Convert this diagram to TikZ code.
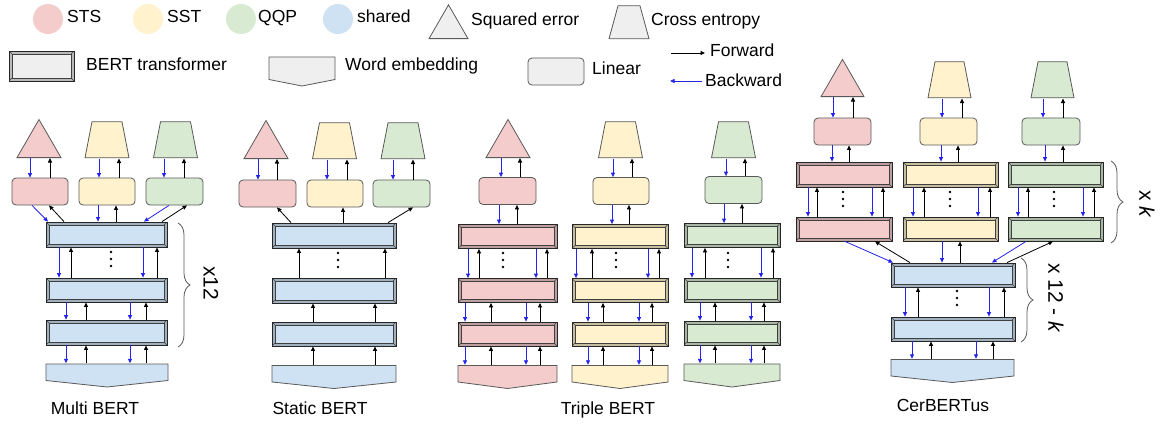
\documentclass[tikz,border=0pt]{standalone}
\usepackage{fontspec}
\setmainfont{Liberation Sans}
\usepackage{xcolor}
\usetikzlibrary{arrows.meta,shapes.geometric,decorations.pathreplacing}

\definecolor{stsC}{HTML}{F4CCCC}
\definecolor{sstC}{HTML}{FFF2CC}
\definecolor{qqpC}{HTML}{D9EAD3}
\definecolor{shrC}{HTML}{CFE2F3}
\definecolor{keyC}{HTML}{EFEFEF}
\definecolor{edgeC}{HTML}{595959}
\definecolor{bwdC}{HTML}{2424EE}

\begin{document}
\begin{tikzpicture}[x=1pt, y=-1pt,
  font=\fontsize{17.5}{20}\selectfont,
  lbl/.style={inner sep=0, text height=12.5pt, text depth=0pt},
  big/.style={inner sep=0, font=\fontsize{21}{24}\selectfont, rotate=-90},
  blob/.style={circle, minimum size=30pt, inner sep=0, fill=#1},
  sqe/.style={regular polygon, regular polygon sides=3, draw=edgeC, line width=0.8pt,
              fill=#1, minimum size=50.8pt, inner sep=0, anchor=south},
  xent/.style 2 args={fill=white, inner sep=0, minimum width=45pt, minimum height=37pt,
               anchor=south,
               path picture={
                 \draw[edgeC, line width=0.8pt, fill=#1]
                   ([shift={(0.5pt,0.5pt)}]path picture bounding box.south west) --
                   ([shift={(-0.5pt,0.5pt)}]path picture bounding box.south east) --
                   ([shift={(-#2,-0.5pt)}]path picture bounding box.north east) --
                   ([shift={(#2,-0.5pt)}]path picture bounding box.north west) -- cycle;}},
  lin/.style={draw=edgeC, line width=0.8pt, rounded corners=4pt, fill=#1,
              minimum width=56pt, minimum height=27pt, inner sep=0},
  bert/.style={draw=black!85, line width=0.8pt, fill=#1!78!black, inner sep=0,
               minimum height=24pt,
               path picture={
                 \draw[black!75, line width=0.5pt, fill=#1]
                   ([shift={(3pt,3pt)}]path picture bounding box.south west) rectangle
                   ([shift={(-3pt,-3pt)}]path picture bounding box.north east);
                 \draw[black!75, line width=0.5pt]
                   (path picture bounding box.south west) -- ++(3pt,3pt)
                   (path picture bounding box.north west) -- ++(3pt,-3pt)
                   (path picture bounding box.north east) -- ++(-3pt,-3pt)
                   (path picture bounding box.south east) -- ++(-3pt,3pt);}},
  emb/.style={fill=white, inner sep=0, minimum height=24pt,
              path picture={
                \draw[edgeC, line width=0.8pt, fill=#1]
                  ([shift={(0.5pt,-0.5pt)}]path picture bounding box.north west) --
                  ([shift={(-0.5pt,-0.5pt)}]path picture bounding box.north east) --
                  ([shift={(-0.5pt,7pt)}]path picture bounding box.south east) --
                  ([yshift=0.5pt]path picture bounding box.south) --
                  ([shift={(0.5pt,7pt)}]path picture bounding box.south west) -- cycle;}},
  fwd/.style={->, black, line width=0.8pt},
  bwd/.style={->, bwdC, line width=0.8pt},
  brc/.style={edgeC, line width=0.8pt, decorate, decoration={brace, amplitude=12pt}},
  >={Triangle[length=4.5pt, width=4pt]}]
\useasboundingbox (0,0) rectangle (1163,424);

% legend
\node[blob=stsC] (kSts) at (48,19) {};
\node[lbl, anchor=west] (tSts) at (67,16.5) {STS};
\node[blob=sstC] (kSst) at (148,19) {};
\node[lbl, anchor=west] (tSst) at (167,16.5) {SST};
\node[blob=qqpC] (kQqp) at (241,19) {};
\node[lbl, anchor=west] (tQqp) at (258,16.5) {QQP};
\node[blob=shrC] (kShr) at (338,19) {};
\node[lbl, anchor=west] (tShr) at (357,16.5) {shared};
\node[sqe=keyC, minimum size=45pt] (kSqe) at (448.5,39) {};
\node[lbl, anchor=west] (tSqe) at (471,19) {Squared error};
\node[xent={keyC}{9.5pt}, minimum width=41pt, minimum height=34pt] (kXent) at (629,39.5) {};
\node[lbl, anchor=west] (tXent) at (651,19) {Cross entropy};
\node[bert=keyC, minimum width=65pt, minimum height=30pt] (kBert) at (41.5,66) {};
\node[lbl, anchor=west] (tBert) at (86,64.5) {BERT transformer};
\node[emb=keyC, minimum width=67pt, minimum height=30pt] (kEmb) at (302,71.5) {};
\node[lbl, anchor=west] (tEmb) at (345,64.5) {Word embedding};
\node[lin=keyC] (kLin) at (556,71.5) {};
\node[lbl, anchor=west] (tLin) at (592,68) {Linear};
\coordinate (fA) at (671,53);
\coordinate (fB) at (705,53);
\draw[fwd] (fA) -- (fB);
\node[lbl, anchor=west] (tFwd) at (710,50) {Forward};
\coordinate (bA) at (702,81);
\coordinate (bB) at (670,81);
\draw[bwd] (bA) -- (bB);
\node[lbl, anchor=west] (tBwd) at (705,80.5) {Backward};

% Multi BERT
\node[sqe=stsC] (mT1) at (39,158) {};
\node[xent={sstC}{7.5pt}] (mT2) at (107,158.5) {};
\node[xent={qqpC}{7.5pt}] (mT3) at (175.5,158.5) {};
\node[lin=stsC] (mL1) at (40,191.5) {};
\node[lin=sstC] (mL2) at (107,191.5) {};
\node[lin=qqpC, minimum width=57pt] (mL3) at (174.5,191.5) {};
\node[bert=shrC, minimum width=121pt, minimum height=25pt] (mB1) at (106.5,234.5) {};
\node[bert=shrC, minimum width=121pt] (mB2) at (106.5,290) {};
\node[bert=shrC, minimum width=121pt, minimum height=25pt] (mB3) at (106.5,332.5) {};
\node[emb=shrC, minimum width=123pt] (mE) at (107,375.5) {};
\foreach \u/\l/\xb/\xf in {mT1/mL1/30/50, mT2/mL2/99/119, mT3/mL3/164/184,
    mL2/mB1/98/116, mB1/mB2/59/71, mB1/mB2/143/157, mB2/mB3/66/86,
    mB2/mB3/130/146, mB3/mE/66/86, mB3/mE/130/146}{
  \draw[bwd] (\xb,0 |- \u.south) -- (\xb,0 |- \l.north);
  \draw[fwd] (\xf,0 |- \l.north) -- (\xf,0 |- \u.south);
}
\draw[bwd] (32,0 |- mL1.south) -- (48,0 |- mB1.north);
\draw[fwd] (64,0 |- mB1.north) -- (49,0 |- mL1.south);
\draw[bwd] (169,0 |- mL3.south) -- (144,0 |- mB1.north);
\draw[fwd] (162,0 |- mB1.north) -- (187,0 |- mL3.south);
\draw[brc] (178,223) -- (178,347);
\node[big] (mN) at (211,283) {x12};
\node[lbl] (mName) at (95,408) {Multi BERT};

% Static BERT
\node[sqe=stsC] (sT1) at (266,159) {};
\node[xent={sstC}{7.5pt}] (sT2) at (334.5,159.5) {};
\node[xent={qqpC}{7.5pt}] (sT3) at (403,159.5) {};
\node[lin=stsC, minimum width=57pt] (sL1) at (267.5,193.5) {};
\node[lin=sstC] (sL2) at (335,193.5) {};
\node[lin=qqpC, minimum width=57pt] (sL3) at (401.5,193.5) {};
\node[bert=shrC, minimum width=124pt, minimum height=25pt] (sB1) at (334,235.5) {};
\node[bert=shrC, minimum width=124pt, minimum height=25pt] (sB2) at (334,290.5) {};
\node[bert=shrC, minimum width=124pt] (sB3) at (334,334) {};
\node[emb=shrC, minimum width=125pt] (sE) at (334,377) {};
\foreach \u/\l/\xb/\xf in {sT1/sL1/258/277, sT2/sL2/327/347, sT3/sL3/393/413}{
  \draw[bwd] (\xb,0 |- \u.south) -- (\xb,0 |- \l.north);
  \draw[fwd] (\xf,0 |- \l.north) -- (\xf,0 |- \u.south);
}
\foreach \u/\l/\xf in {sL2/sB1/343, sB1/sB2/299, sB1/sB2/385, sB2/sB3/313,
    sB2/sB3/375, sB3/sE/313, sB3/sE/375}
  \draw[fwd] (\xf,0 |- \l.north) -- (\xf,0 |- \u.south);
\draw[fwd] (291,0 |- sB1.north) -- (277,0 |- sL1.south);
\draw[fwd] (388,0 |- sB1.north) -- (413,0 |- sL3.south);
\node[lbl] (sName) at (320,408) {Static BERT};

% Triple BERT
\node[sqe=stsC] (taT) at (508,158) {};
\node[xent={sstC}{7.5pt}] (tbT) at (620.5,158.5) {};
\node[xent={qqpC}{7.5pt}] (tcT) at (733.5,158.5) {};
\node[lin=stsC, minimum width=57pt] (taL) at (507.5,191) {};
\node[lin=sstC] (tbL) at (621,191) {};
\node[lin=qqpC, minimum width=57pt] (tcL) at (733.5,190) {};
\node[bert=stsC, minimum width=99pt] (taB1) at (507.5,236.5) {};
\node[bert=stsC, minimum width=99pt] (taB2) at (507.5,290.5) {};
\node[bert=stsC, minimum width=99pt] (taB3) at (507.5,334) {};
\node[emb=stsC, minimum width=100pt] (taE) at (507.5,377) {};
\node[bert=sstC, minimum width=96pt] (tbB1) at (620,236.5) {};
\node[bert=sstC, minimum width=96pt] (tbB2) at (620,290.5) {};
\node[bert=sstC, minimum width=96pt] (tbB3) at (620,334) {};
\node[emb=sstC, minimum width=97pt] (tbE) at (620,377) {};
\node[bert=qqpC, minimum width=96pt] (tcB1) at (732,235.5) {};
\node[bert=qqpC, minimum width=96pt] (tcB2) at (732,290) {};
\node[bert=qqpC, minimum width=96pt] (tcB3) at (732,333) {};
\node[emb=qqpC, minimum width=97pt] (tcE) at (732,375.5) {};
\foreach \u/\l/\xb/\xf in {taT/taL/501/520, taL/taB1/499/517,
    taB1/taB2/468/479, taB1/taB2/536/547, taB2/taB3/465/491, taB2/taB3/526/540,
    taB3/taE/465/491, taB3/taE/526/540,
    tbT/tbL/613/632, tbL/tbB1/612/629,
    tbB1/tbB2/576/592, tbB1/tbB2/648/659, tbB2/tbB3/588/603, tbB2/tbB3/639/652,
    tbB3/tbE/588/603, tbB3/tbE/639/652,
    tcT/tcL/726/745, tcL/tcB1/724/742,
    tcB1/tcB2/692/705, tcB1/tcB2/761/773, tcB2/tcB3/700/715, tcB2/tcB3/751/764,
    tcB3/tcE/700/715, tcB3/tcE/751/764}{
  \draw[bwd] (\xb,0 |- \u.south) -- (\xb,0 |- \l.north);
  \draw[fwd] (\xf,0 |- \l.north) -- (\xf,0 |- \u.south);
}
\node[lbl] (tName) at (608,408) {Triple BERT};

% CerBERTus
\node[sqe=stsC, minimum size=49.6pt] (caT) at (842.5,97) {};
\node[xent={sstC}{7.5pt}, minimum width=44pt] (cbT) at (949.5,98.5) {};
\node[xent={qqpC}{7.5pt}, minimum width=44pt] (ccT) at (1052.5,98.5) {};
\node[lin=stsC, minimum width=57pt] (caL) at (842.5,131.5) {};
\node[lin=sstC, minimum width=57pt] (cbL) at (948.5,131.5) {};
\node[lin=qqpC, minimum width=58pt] (ccL) at (1051,131.5) {};
\node[bert=stsC, minimum width=96pt, minimum height=25pt] (caB1) at (844,174.5) {};
\node[bert=stsC, minimum width=96pt] (caB2) at (844,229) {};
\node[bert=sstC, minimum width=95pt, minimum height=25pt] (cbB1) at (950.5,174.5) {};
\node[bert=sstC, minimum width=95pt] (cbB2) at (950.5,229) {};
\node[bert=qqpC, minimum width=95pt, minimum height=25pt] (ccB1) at (1055.5,174.5) {};
\node[bert=qqpC, minimum width=95pt] (ccB2) at (1055.5,229) {};
\node[bert=shrC, minimum width=124pt] (cB1) at (953,275) {};
\node[bert=shrC, minimum width=124pt] (cB2) at (953,329) {};
\node[emb=shrC, minimum width=124pt] (cE) at (952.5,371) {};
\foreach \u/\l/\xb/\xf in {caT/caL/833/853, cbT/cbL/942/962, ccT/ccL/1043/1063,
    caL/caB1/832/849, cbL/cbB1/941/958, ccL/ccB1/1045/1063,
    caB1/caB2/808/817, caB1/caB2/872/883, cbB1/cbB2/913/924, cbB1/cbB2/978/990,
    ccB1/ccB2/1018/1028, ccB1/ccB2/1083/1094, cbB2/cB1/942/960,
    cB1/cB2/905/918, cB1/cB2/989/1004, cB2/cE/912/931, cB2/cE/976/993}{
  \draw[bwd] (\xb,0 |- \u.south) -- (\xb,0 |- \l.north);
  \draw[fwd] (\xf,0 |- \l.north) -- (\xf,0 |- \u.south);
}
\draw[bwd] (845,0 |- caB2.south) -- (893,0 |- cB1.north);
\draw[fwd] (910,0 |- cB1.north) -- (875,0 |- caB2.south);
\draw[bwd] (1026,0 |- ccB2.south) -- (992,0 |- cB1.north);
\draw[fwd] (1007,0 |- cB1.north) -- (1053,0 |- ccB2.south);
\draw[brc] (1111,161) -- (1111,243);
\node[big] (cN1) at (1147,204) {x \textit{k}};
\draw[brc] (1021,258) -- (1021,342);
\node[big] (cN2) at (1056,298) {x 12 - \textit{k}};
\node[lbl] (cName) at (943,405) {CerBERTus};

% vertical dots
\foreach \x/\y in {111/252, 338/253, 503/253, 616/253, 728/253,
    843/192, 950/192, 1054/192, 957/291}
  \foreach \d in {0,7,14}
    \fill (\x,\y+\d) circle (1.3pt);
\end{tikzpicture}
\end{document}
